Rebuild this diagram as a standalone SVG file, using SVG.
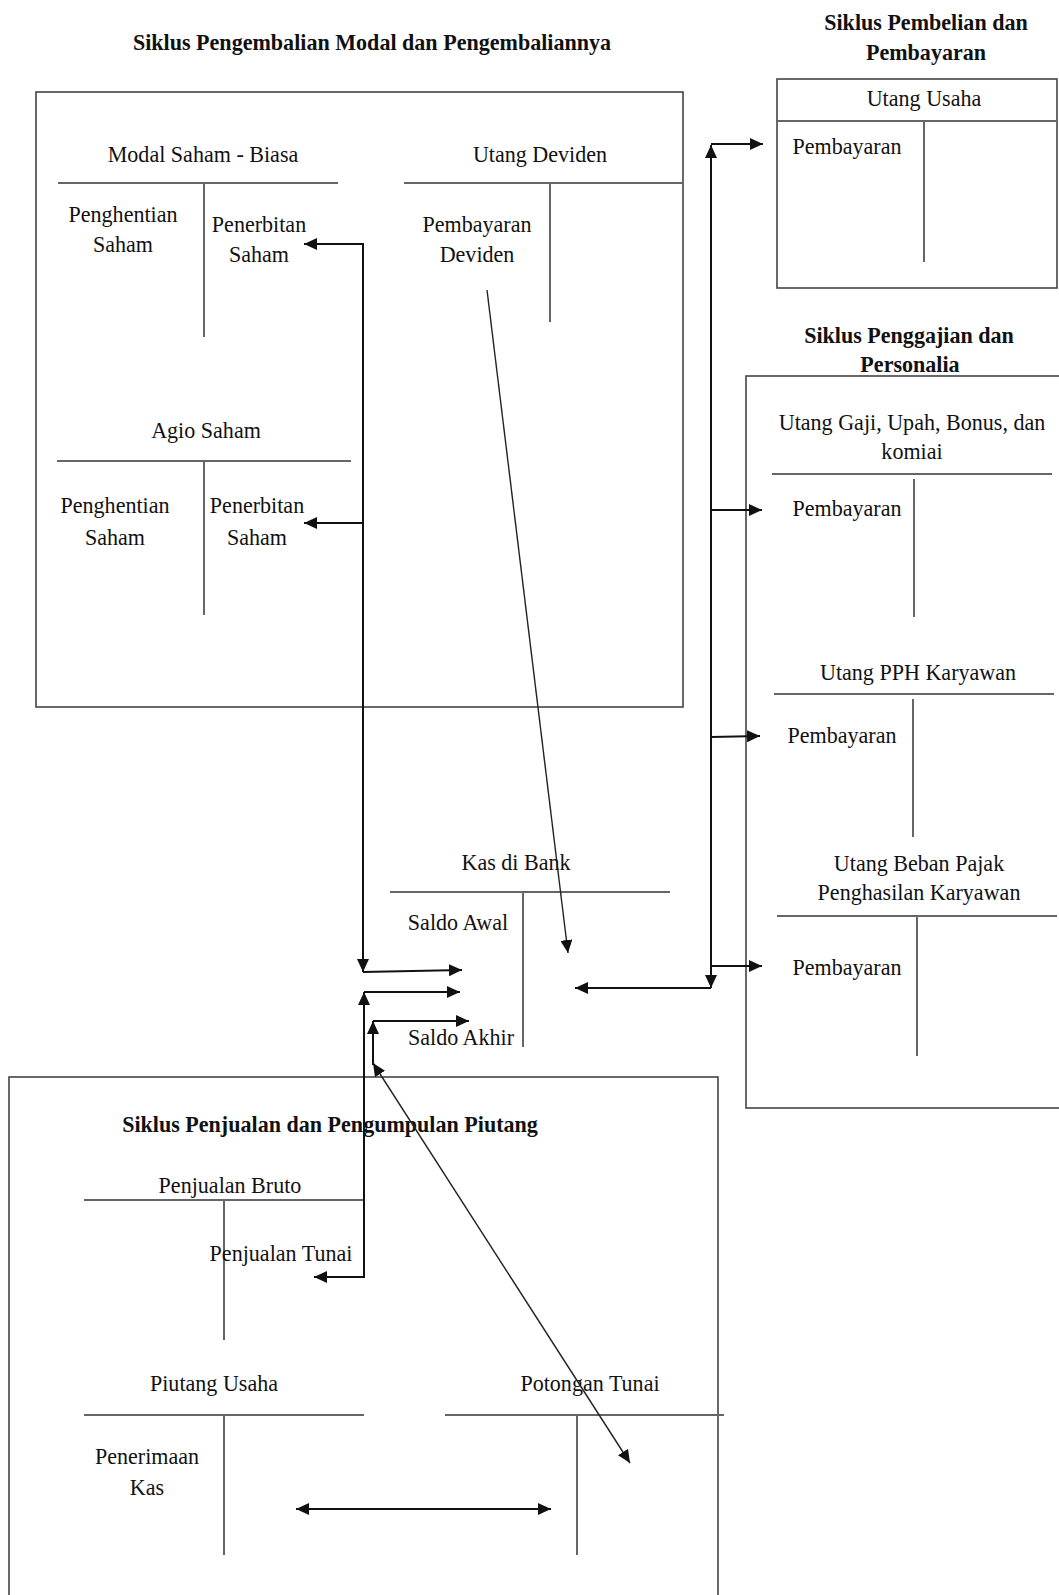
<svg xmlns="http://www.w3.org/2000/svg" width="1059" height="1595" viewBox="0 0 1059 1595">
<style>
text{font-family:"Liberation Serif","Times New Roman",serif;font-size:24px;fill:#111;text-anchor:middle;transform-box:fill-box;transform-origin:center;transform:scaleX(0.92)}
.t{font-weight:bold}
.box{fill:none;stroke:#444;stroke-width:1.6}
.ta{fill:none;stroke:#666;stroke-width:2}
.c{fill:none;stroke:#111;stroke-width:2}
.d{fill:none;stroke:#222;stroke-width:1.4}
.a{marker-end:url(#ah)}
.as{marker-start:url(#ahs)}
</style>
<defs>
<marker id="ah" markerUnits="userSpaceOnUse" markerWidth="14" markerHeight="12" refX="13" refY="6" orient="auto"><path d="M0,0 L13,6 L0,12 z" fill="#111"/></marker>
<marker id="ahs" markerUnits="userSpaceOnUse" markerWidth="14" markerHeight="12" refX="13" refY="6" orient="auto-start-reverse"><path d="M0,0 L13,6 L0,12 z" fill="#111"/></marker>
</defs>
<rect width="1059" height="1595" fill="#fff"/>

<g id="siklus-modal">
<text class="t" x="372" y="50">Siklus Pengembalian Modal dan Pengembaliannya</text>
<rect class="box" x="36" y="92" width="647" height="615"/>
</g>
<g id="modal-saham-biasa">
<text x="203" y="162">Modal Saham - Biasa</text>
<line class="ta" x1="58" y1="183" x2="338" y2="183"/>
<line class="ta" x1="204" y1="183" x2="204" y2="337"/>
<text x="123" y="222">Penghentian</text>
<text x="123" y="252">Saham</text>
<text x="259" y="232">Penerbitan</text>
<text x="259" y="262">Saham</text>
</g>
<g id="utang-deviden">
<text x="540" y="162">Utang Deviden</text>
<line class="ta" x1="404" y1="183" x2="683" y2="183"/>
<line class="ta" x1="550" y1="183" x2="550" y2="322"/>
<text x="477" y="232">Pembayaran</text>
<text x="477" y="262">Deviden</text>
</g>
<g id="agio-saham">
<text x="206" y="438">Agio Saham</text>
<line class="ta" x1="57" y1="461" x2="351" y2="461"/>
<line class="ta" x1="204" y1="461" x2="204" y2="615"/>
<text x="115" y="513">Penghentian</text>
<text x="115" y="545">Saham</text>
<text x="257" y="513">Penerbitan</text>
<text x="257" y="545">Saham</text>
</g>

<g id="siklus-pembelian">
<text class="t" x="926" y="30">Siklus Pembelian dan</text>
<text class="t" x="926" y="60">Pembayaran</text>
</g>
<g id="utang-usaha">
<rect class="box" x="777" y="79" width="280" height="209"/>
<line class="ta" x1="777" y1="121" x2="1057" y2="121"/>
<line class="ta" x1="924" y1="121" x2="924" y2="262"/>
<text x="924" y="106">Utang Usaha</text>
<text x="847" y="154">Pembayaran</text>
</g>

<g id="siklus-penggajian">
<text class="t" x="909" y="343">Siklus Penggajian dan</text>
<rect class="box" x="746" y="376" width="330" height="732"/>
<text class="t" x="910" y="372">Personalia</text>
</g>
<g id="utang-gaji">
<text x="912" y="430">Utang Gaji, Upah, Bonus, dan</text>
<text x="912" y="459">komiai</text>
<line class="ta" x1="772" y1="474" x2="1052" y2="474"/>
<line class="ta" x1="914" y1="479" x2="914" y2="617"/>
<text x="847" y="516">Pembayaran</text>
</g>
<g id="utang-pph">
<text x="918" y="680">Utang PPH Karyawan</text>
<line class="ta" x1="774" y1="694" x2="1054" y2="694"/>
<line class="ta" x1="913" y1="699" x2="913" y2="837"/>
<text x="842" y="743">Pembayaran</text>
</g>
<g id="utang-beban-pajak">
<text x="919" y="871">Utang Beban Pajak</text>
<text x="919" y="900">Penghasilan Karyawan</text>
<line class="ta" x1="777" y1="916" x2="1057" y2="916"/>
<line class="ta" x1="917" y1="916" x2="917" y2="1056"/>
<text x="847" y="975">Pembayaran</text>
</g>

<g id="kas-di-bank">
<text x="516" y="870">Kas di Bank</text>
<line class="ta" x1="390" y1="892" x2="670" y2="892"/>
<line class="ta" x1="523" y1="892" x2="523" y2="1047"/>
<text x="458" y="930">Saldo Awal</text>
<text x="461" y="1045">Saldo Akhir</text>
</g>

<g id="siklus-penjualan">
<rect class="box" x="9" y="1077" width="709" height="530"/>
<text class="t" x="330" y="1132">Siklus Penjualan dan Pengumpulan Piutang</text>
</g>
<g id="penjualan-bruto">
<text x="230" y="1193">Penjualan Bruto</text>
<line class="ta" x1="84" y1="1200" x2="364" y2="1200"/>
<line class="ta" x1="224" y1="1200" x2="224" y2="1340"/>
<text x="281" y="1261">Penjualan Tunai</text>
</g>
<g id="piutang-usaha">
<text x="214" y="1391">Piutang Usaha</text>
<line class="ta" x1="84" y1="1415" x2="364" y2="1415"/>
<line class="ta" x1="224" y1="1415" x2="224" y2="1555"/>
<text x="147" y="1464">Penerimaan</text>
<text x="147" y="1495">Kas</text>
</g>
<g id="potongan-tunai">
<text x="590" y="1391">Potongan Tunai</text>
<line class="ta" x1="445" y1="1415" x2="724" y2="1415"/>
<line class="ta" x1="577" y1="1415" x2="577" y2="1555"/>
</g>

<g id="connectors">
<path class="c a as" d="M304,244 H363 V972"/>
<path class="c a" d="M363,523 H304"/>
<path class="c a" d="M363,972 L462,970"/>
<path class="c a as" d="M314,1277 H364 V992"/>
<path class="c a" d="M364,992 H460"/>
<path class="c a" d="M373,1065 V1021"/>
<path class="c a" d="M373,1021 H469"/>
<path class="d a as" d="M373,1063 L630,1463"/>
<path class="d a" d="M487,290 L568,953"/>
<path class="c a as" d="M711,145 V988"/>
<path class="c a" d="M711,144 H763"/>
<path class="c a" d="M711,510 H762"/>
<path class="c a" d="M711,737 L760,736"/>
<path class="c a" d="M711,966 H762"/>
<path class="c a" d="M711,988 H575"/>
<path class="c a as" d="M296,1509 H551"/>
</g>
</svg>
